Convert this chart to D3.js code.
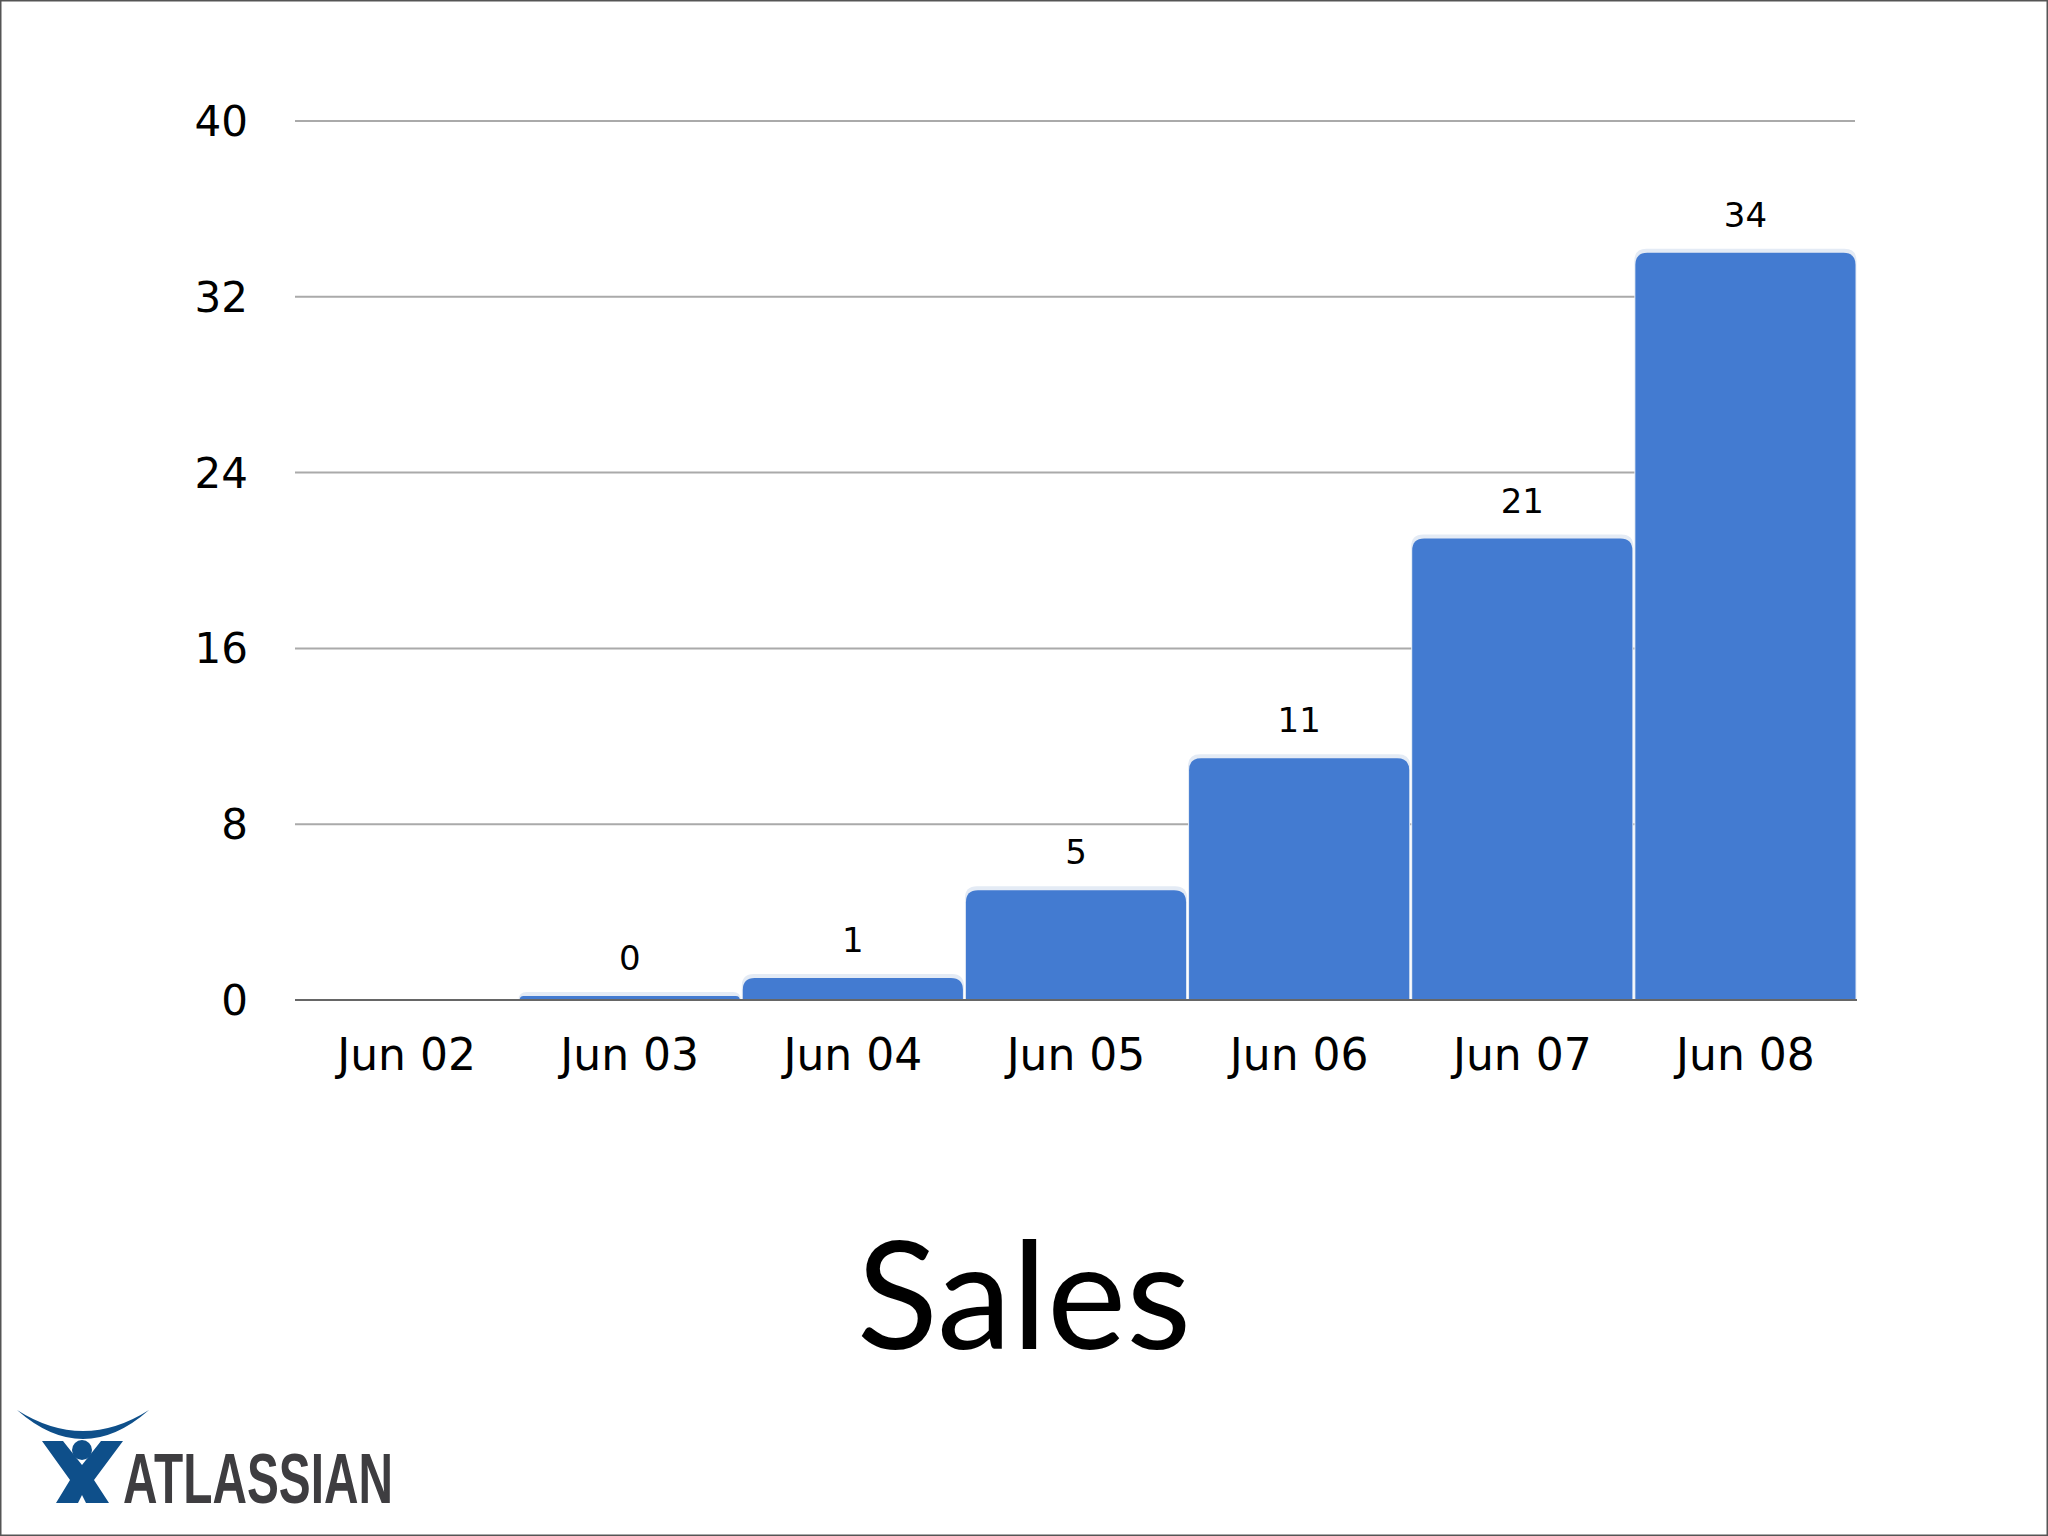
<!DOCTYPE html>
<html><head><meta charset="utf-8">
<script src="https://cdn.jsdelivr.net/npm/d3@7"></script>
<style>body{margin:0;background:#fff}svg{display:block}</style>
</head><body>
<svg id="c" width="2048" height="1536"></svg>
<script>
const categories = ["Jun 02", "Jun 03", "Jun 04", "Jun 05", "Jun 06", "Jun 07", "Jun 08"];
const sales = [null, 0, 1, 5, 11, 21, 34];
const yTicks = [0, 8, 16, 24, 32, 40];

const svg = d3.select("#c");
const m = { left: 295, right: 1857, top: 121, bottom: 1000 };

svg.append("rect").attr("x", 0.5).attr("y", 0.5).attr("width", 2047).attr("height", 1535)
  .attr("fill", "none").attr("stroke", "#555").attr("stroke-width", 2);

const x = d3.scaleBand().domain(categories).range([m.left, m.right]).padding(0);
const y = d3.scaleLinear().domain([0, 40]).range([m.bottom, m.top]);

svg.append("g").selectAll("line").data(yTicks.filter(d => d > 0)).join("line")
  .attr("x1", m.left).attr("x2", m.right - 2)
  .attr("y1", d => y(d)).attr("y2", d => y(d))
  .attr("stroke", "#aaa").attr("stroke-width", 2);

svg.append("g").selectAll("text").data(yTicks).join("text")
  .attr("x", 248).attr("y", d => y(d) + 15)
  .attr("text-anchor", "end").attr("font-family", "DejaVu Sans").attr("font-size", 42)
  .text(d => d);

function barPath(x0, w, top, bottom, r) {
  r = Math.min(r, bottom - top);
  return `M${x0},${bottom}V${top + r}Q${x0},${top} ${x0 + r},${top}H${x0 + w - r}Q${x0 + w},${top} ${x0 + w},${top + r}V${bottom}Z`;
}

const bars = categories.map((c, i) => ({ c, v: sales[i] })).filter(d => d.v !== null);
const g = svg.append("g");
bars.forEach(d => {
  const x0 = x(d.c) + 1.5, w = x.bandwidth() - 3;
  const top = Math.min(y(d.v), m.bottom - 4);
  g.append("path").attr("d", barPath(x0 - 1, w + 2, top - 4, m.bottom, 12))
    .attr("fill", "#e4ebf5");
  g.append("path").attr("d", barPath(x0, w, top, m.bottom, 12))
    .attr("fill", "#437bd1");
  g.append("text").attr("x", x(d.c) + x.bandwidth() / 2).attr("y", top - 26)
    .attr("text-anchor", "middle").attr("font-family", "DejaVu Sans").attr("font-size", 34)
    .text(d.v);
});

svg.append("line").attr("x1", m.left).attr("x2", m.right).attr("y1", m.bottom).attr("y2", m.bottom)
  .attr("stroke", "#666").attr("stroke-width", 2);

svg.append("g").selectAll("text").data(categories).join("text")
  .attr("x", d => x(d) + x.bandwidth() / 2).attr("y", 1070)
  .attr("text-anchor", "middle").attr("font-family", "DejaVu Sans").attr("font-size", 44)
  .text(d => d);

svg.append("text").attr("x", 1024).attr("y", 1349).attr("text-anchor", "middle")
  .attr("font-family", "Lato").attr("font-size", 150).text("Sales");

// logo
const lg = svg.append("g");
lg.append("path").attr("d", "M17,1410 Q83,1468 149,1410 Q83,1452 17,1410Z").attr("fill", "#0e4f8a");
lg.append("circle").attr("cx", 82).attr("cy", 1450).attr("r", 10).attr("fill", "#0e4f8a");
lg.append("path").attr("d", "M42,1441 L63,1441 L82,1465 L101,1441 L123,1441 L94,1480 L109,1503 L86,1503 L82,1495 L78,1503 L56,1503 L70,1480Z")
  .attr("fill", "#0e4f8a");
lg.append("text").attr("x", 123).attr("y", 1503).attr("font-family", "Liberation Sans Narrow, Liberation Sans")
  .attr("font-weight", "bold").attr("font-size", 70).attr("fill", "#3e3d40")
  .attr("textLength", 270).attr("lengthAdjust", "spacingAndGlyphs").text("ATLASSIAN");
</script>
</body></html>
